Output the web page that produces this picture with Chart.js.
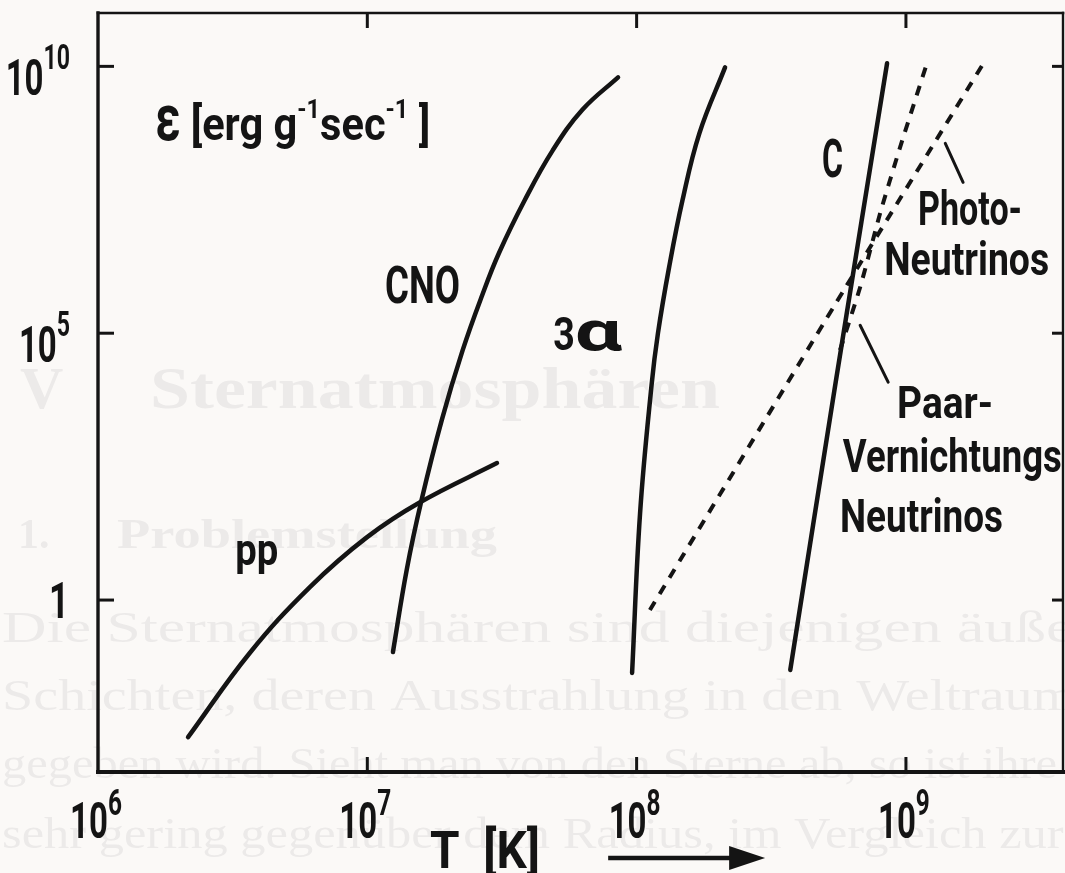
<!DOCTYPE html>
<html lang="de">
<head>
<meta charset="UTF-8">
<title>Energieerzeugung und Neutrinoverluste</title>
<script src="https://cdn.jsdelivr.net/npm/chart.js"></script>
<style>
  html, body { margin: 0; padding: 0; background: #fbf9f7; }
  #wrap { width: 1065px; height: 873px; }
</style>
</head>
<body>
<div id="wrap"><canvas id="chart" width="1065" height="873"></canvas></div>
<script>
// T in K, epsilon in erg g^-1 sec^-1
const ppT   = [2.16e6, 3.66e6, 6.12e6, 9.98e6, 1.57e7, 3.03e7];
const ppEps = [2.7e-3, 0.102, 1.75, 15.1, 68, 368];

const cnoT   = [1.245e7, 1.40e7, 1.59e7, 1.89e7, 2.26e7, 2.67e7, 3.08e7, 3.84e7, 4.88e7, 6.30e7, 8.53e7];
const cnoEps = [0.106, 3.65, 74.6, 2350, 4.81e4, 5.15e5, 3.15e6, 3.10e7, 2.67e8, 1.55e9, 6.22e9];

const alphaT   = [9.62e7, 1.03e8, 1.136e8, 1.20e8, 1.32e8, 1.48e8, 1.71e8, 2.13e8];
const alphaEps = [0.043, 42.6, 1.06e4, 1.0e5, 1.72e6, 3.10e7, 5.56e8, 9.57e9];

const carbonT   = [3.72e8, 5.50e8, 8.51e8];
const carbonEps = [0.049, 1.32e4, 1.14e10];

const photoNuT   = [1.12e8, 5.94e8, 1.97e9];
const photoNuEps = [0.65, 6.97e5, 1.29e10];

const pairNuT   = [5.69e8, 6.76e8, 8.02e8, 9.51e8, 1.20e9];
const pairNuEps = [4.81e4, 7.26e5, 1.77e7, 3.04e8, 1.19e10];

const xTicks    = [1e6, 1e7, 1e8, 1e9];
const xTickExps = ['6', '7', '8', '9'];
const yTicks    = [1, 1e5, 1e10];
const yTickExps = ['', '5', '10'];

const INK = '#141414';
const FONT = 'Roboto, "DejaVu Sans", sans-serif';
const SERIF = '"Liberation Serif", "DejaVu Serif", serif';

// labels placed in data coordinates [T, eps] (left edge, baseline)
const curveLabels = [
  { parts: [{ text: 'ε', size: 64, sx: 0.78 }, { text: ' [erg g', size: 46 }, { text: '-1', size: 26, rise: 22 },
            { text: 'sec', size: 46 }, { text: '-1', size: 26, rise: 22 }, { text: ' ]', size: 46 }],
    at: [1.63e6, 4.11e8], width: 275 },
  { parts: [{ text: 'CNO', size: 52 }], at: [1.164e7, 3.65e5], width: 75 },
  { parts: [{ text: '3', size: 47, sx: 0.8 }, { text: 'α', size: 56, sx: 1.5 }], at: [4.90e7, 4.81e4], sx: 1 },
  { parts: [{ text: 'pp', size: 44 }], at: [3.23e6, 4.52], width: 43 },
  { parts: [{ text: 'C', size: 54 }], at: [4.88e8, 8.34e7], width: 21 },
  { parts: [{ text: 'Photo-', size: 48 }], at: [1.109e9, 1.05e7], width: 104 },
  { parts: [{ text: 'Neutrinos', size: 46 }], at: [8.30e8, 1.22e6], width: 165 },
  { parts: [{ text: 'Paar-', size: 44 }], at: [9.27e8, 2.56e3], width: 96 },
  { parts: [{ text: 'Vernichtungs', size: 46 }], at: [5.83e8, 249], width: 219 },
  { parts: [{ text: 'Neutrinos', size: 46 }], at: [5.69e8, 18.7], width: 163 }
];

// short leader strokes from the neutrino labels to their curves
const leaders = [
  [[1.40e9, 3.61e8], [1.63e9, 6.73e7]],
  [[6.76e8, 1.41e5], [8.59e8, 1.21e4]]
];

// faint print showing through from the next page
const showThrough = [
  { text: 'V', x: 20, y: 408, size: 60, weight: 'bold' },
  { text: 'Sternatmosphären', x: 150, y: 408, size: 60, weight: 'bold', width: 570 },
  { text: '1.', x: 18, y: 548, size: 42, weight: 'bold' },
  { text: 'Problemstellung', x: 117, y: 548, size: 42, weight: 'bold', width: 380 },
  { text: 'Die Sternatmosphären sind diejenigen äußeren', x: 2, y: 642, size: 44, width: 1150 },
  { text: 'Schichten, deren Ausstrahlung in den Weltraum ab-', x: 2, y: 710, size: 44, width: 1160 },
  { text: 'gegeben wird. Sieht man von den Sterne ab, so ist ihre Dicke meist', x: 2, y: 778, size: 44, width: 1300 },
  { text: 'sehr gering gegenüber dem Radius, im Vergleich zur Tem-', x: 2, y: 848, size: 44, width: 1180 }
];

const toPoints = (xs, ys) => xs.map((x, i) => ({ x: x, y: ys[i] }));

const solidLine = (label, xs, ys) => ({
  label: label,
  data: toPoints(xs, ys),
  showLine: true,
  borderColor: INK,
  borderWidth: 4.5,
  borderCapStyle: 'round',
  borderJoinStyle: 'round',
  pointRadius: 0,
  tension: 0.4,
  fill: false
});

const dashedLine = (label, xs, ys) => ({
  label: label,
  data: toPoints(xs, ys),
  showLine: true,
  borderColor: INK,
  borderWidth: 4,
  borderDash: [10, 9],
  pointRadius: 0,
  tension: 0.2,
  fill: false
});

// text runs with optional superscripts; squeezed horizontally to a given width
function drawRuns(ctx, parts, x, y, opts) {
  const o = opts || {};
  const weight = o.weight || 'bold';
  const family = o.family || FONT;
  const widthOf = p => {
    ctx.font = weight + ' ' + p.size + 'px ' + family;
    return ctx.measureText(p.text).width * (p.sx || 1);
  };
  let natural = 0;
  parts.forEach(p => { natural += widthOf(p); });
  const k = o.width ? o.width / natural : (o.sx || 1);
  const total = natural * k;
  let cx = o.align === 'right' ? x - total : o.align === 'center' ? x - total / 2 : x;
  parts.forEach(p => {
    const w = widthOf(p);
    ctx.save();
    ctx.translate(cx, y - (p.rise || 0));
    ctx.scale(k * (p.sx || 1), 1);
    ctx.textAlign = 'left';
    ctx.textBaseline = 'alphabetic';
    ctx.fillText(p.text, 0, 0);
    ctx.restore();
    cx += w * k;
  });
}

const paperPlugin = {
  id: 'paper',
  beforeDraw(chart) {
    const ctx = chart.ctx;
    ctx.save();
    ctx.fillStyle = '#fbf9f7';
    ctx.fillRect(0, 0, chart.width, chart.height);
    ctx.fillStyle = 'rgba(40, 40, 60, 0.07)';
    showThrough.forEach(t => {
      drawRuns(ctx, [{ text: t.text, size: t.size }], t.x, t.y,
        { weight: t.weight || 'normal', family: SERIF, width: t.width });
    });
    ctx.restore();
  }
};

const framePlugin = {
  id: 'frame',
  afterDatasetsDraw(chart) {
    const ctx = chart.ctx;
    const a = chart.chartArea;
    const xs = chart.scales.x;
    const ys = chart.scales.y;
    ctx.save();
    ctx.strokeStyle = INK;
    ctx.fillStyle = INK;
    ctx.lineCap = 'square';

    const seg = (x1, y1, x2, y2, w) => {
      ctx.lineWidth = w;
      ctx.beginPath();
      ctx.moveTo(x1, y1);
      ctx.lineTo(x2, y2);
      ctx.stroke();
    };

    // box
    seg(a.left, a.top, a.right, a.top, 2.6);
    seg(a.right, a.top, a.right, a.bottom, 2.4);
    seg(a.left, a.top, a.left, a.bottom, 3.4);
    seg(a.left, a.bottom, a.right + 2, a.bottom, 4);

    // inward ticks
    ctx.lineCap = 'butt';
    xTicks.forEach(v => {
      if (v <= xs.min) return;
      const px = xs.getPixelForValue(v);
      seg(px, a.bottom, px, a.bottom - 15, 3);
      seg(px, a.top, px, a.top + 15, 3);
    });
    yTicks.forEach(v => {
      const py = ys.getPixelForValue(v);
      seg(a.left, py, a.left + 16, py, 3);
      seg(a.right, py, a.right - 11, py, 3);
    });

    // tick labels
    xTicks.forEach((v, i) => {
      const px = xs.getPixelForValue(v);
      drawRuns(ctx, [{ text: '10', size: 50 }, { text: xTickExps[i], size: 37, rise: 23 }],
        px - 2, a.bottom + 66, { align: 'center', sx: 0.66 });
    });
    yTicks.forEach((v, i) => {
      const py = ys.getPixelForValue(v);
      if (yTickExps[i] === '') {
        drawRuns(ctx, [{ text: '1', size: 50 }], a.left - 29, py + 18, { align: 'right', sx: 0.7 });
      } else {
        drawRuns(ctx, [{ text: '10', size: 50 }, { text: yTickExps[i], size: 35, rise: 26 }],
          a.left - 28, py + 29, { align: 'right', sx: 0.66 });
      }
    });

    // curve names and axis label
    curveLabels.forEach(l => {
      drawRuns(ctx, l.parts, xs.getPixelForValue(l.at[0]), ys.getPixelForValue(l.at[1]),
        { width: l.width, sx: l.sx });
    });

    ctx.lineCap = 'round';
    leaders.forEach(l => {
      seg(xs.getPixelForValue(l[0][0]), ys.getPixelForValue(l[0][1]),
          xs.getPixelForValue(l[1][0]), ys.getPixelForValue(l[1][1]), 3);
    });

    // "T [K]" with arrow below the axis
    drawRuns(ctx, [{ text: 'T  [K]', size: 52 }], xs.getPixelForValue(1.71e7), a.bottom + 96, { width: 110 });
    const ax0 = xs.getPixelForValue(7.84e7);
    const ax1 = xs.getPixelForValue(3.0e8);
    const ay = a.bottom + 86;
    ctx.lineCap = 'butt';
    seg(ax0, ay, ax1 - 30, ay, 4.5);
    ctx.beginPath();
    ctx.moveTo(ax1, ay);
    ctx.lineTo(ax1 - 36, ay - 12);
    ctx.lineTo(ax1 - 36, ay + 12);
    ctx.closePath();
    ctx.fill();

    ctx.restore();
  }
};

new Chart(document.getElementById('chart'), {
  type: 'scatter',
  data: {
    datasets: [
      solidLine('pp', ppT, ppEps),
      solidLine('CNO', cnoT, cnoEps),
      solidLine('3α', alphaT, alphaEps),
      solidLine('C', carbonT, carbonEps),
      dashedLine('Photo-Neutrinos', photoNuT, photoNuEps),
      dashedLine('Paar-Vernichtungs-Neutrinos', pairNuT, pairNuEps)
    ]
  },
  options: {
    responsive: false,
    animation: false,
    devicePixelRatio: 1,
    events: [],
    layout: { padding: { left: 98, top: 13, right: 2, bottom: 101 } },
    plugins: { legend: { display: false }, tooltip: { enabled: false } },
    scales: {
      x: { type: 'logarithmic', min: 1e6, max: 3.83e9, display: false },
      y: { type: 'logarithmic', min: 6e-4, max: 1e11, display: false }
    }
  },
  plugins: [paperPlugin, framePlugin]
});
</script>
</body>
</html>
